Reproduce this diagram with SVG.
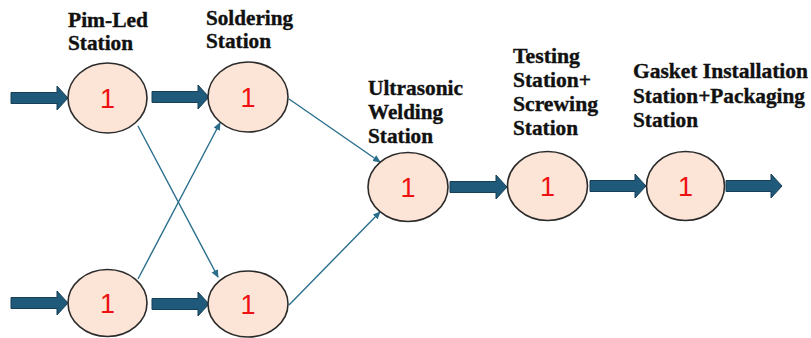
<svg xmlns="http://www.w3.org/2000/svg" width="811" height="338" viewBox="0 0 811 338">
<defs>
<style>
.node ellipse{fill:#FCE4D6;stroke:#2b2b2b;stroke-width:1.6}
.num{font-family:"Liberation Sans",Arial,sans-serif;font-size:27px;fill:#EE1111;text-anchor:middle}
.lbl{font-family:"Liberation Serif","DejaVu Serif","Times New Roman",serif;font-weight:700;font-size:20px;fill:#111;stroke:#111;stroke-width:0.35}
.blk{fill:#1F5A7A;stroke:#173F56;stroke-width:1}
.thin{stroke:#2A6E8C;stroke-width:1.4;fill:none;marker-end:url(#ah)}
</style>
<marker id="ah" markerWidth="8" markerHeight="8" refX="7" refY="4" orient="auto" markerUnits="userSpaceOnUse">
<path d="M0,0.5 L8,4 L0,7.5 Z" fill="#2A6E8C"/>
</marker>
</defs>
<rect width="811" height="338" fill="#fff"/>
<g id="labels">
<text class="lbl" x="68" y="27" textLength="80" lengthAdjust="spacingAndGlyphs">Pim-Led</text>
<text class="lbl" x="68" y="50" textLength="65" lengthAdjust="spacingAndGlyphs">Station</text>
<text class="lbl" x="206" y="25" textLength="87" lengthAdjust="spacingAndGlyphs">Soldering</text>
<text class="lbl" x="206" y="48" textLength="65" lengthAdjust="spacingAndGlyphs">Station</text>
<text class="lbl" x="368" y="95" textLength="95" lengthAdjust="spacingAndGlyphs">Ultrasonic</text>
<text class="lbl" x="368" y="119" textLength="75" lengthAdjust="spacingAndGlyphs">Welding</text>
<text class="lbl" x="368" y="143" textLength="65" lengthAdjust="spacingAndGlyphs">Station</text>
<text class="lbl" x="513" y="63" textLength="67" lengthAdjust="spacingAndGlyphs">Testing</text>
<text class="lbl" x="513" y="87" textLength="78" lengthAdjust="spacingAndGlyphs">Station+</text>
<text class="lbl" x="513" y="111" textLength="85" lengthAdjust="spacingAndGlyphs">Screwing</text>
<text class="lbl" x="513" y="135" textLength="65" lengthAdjust="spacingAndGlyphs">Station</text>
<text class="lbl" x="633" y="78" textLength="175" lengthAdjust="spacingAndGlyphs">Gasket Installation</text>
<text class="lbl" x="633" y="103" textLength="172" lengthAdjust="spacingAndGlyphs">Station+Packaging</text>
<text class="lbl" x="633" y="127" textLength="65" lengthAdjust="spacingAndGlyphs">Station</text>
</g>
<g id="connectors">
<path class="blk" d="M11,92.5 H57 V86 L68,98 L57,110 V103.5 H11 Z"/>
<path class="blk" d="M152,91.5 H198 V85 L209,97 L198,109 V102.5 H152 Z"/>
<path class="blk" d="M11,297.5 H57 V291 L68,303 L57,315 V308.5 H11 Z"/>
<path class="blk" d="M152,298.5 H198 V292 L209,304 L198,316 V309.5 H152 Z"/>
<path class="blk" d="M450,181.5 H496 V175 L507,187 L496,199 V192.5 H450 Z"/>
<path class="blk" d="M590,180.5 H635 V174 L646,186 L635,198 V191.5 H590 Z"/>
<path class="blk" d="M726,180.5 H771 V174 L782,186 L771,198 V191.5 H726 Z"/>
<line class="thin" x1="138" y1="126" x2="218" y2="277"/>
<line class="thin" x1="138" y1="279" x2="220" y2="123"/>
<line class="thin" x1="289" y1="99" x2="380" y2="162"/>
<line class="thin" x1="289" y1="305" x2="380" y2="212"/>
</g>
<g id="n-pimled-top" class="node"><ellipse cx="107.5" cy="98" rx="39.5" ry="35"/><text class="num" x="107.5" y="108">1</text></g>
<g id="n-soldering-top" class="node"><ellipse cx="248" cy="97" rx="40" ry="35"/><text class="num" x="248" y="107">1</text></g>
<g id="n-pimled-bottom" class="node"><ellipse cx="107.5" cy="303" rx="39.5" ry="33.5"/><text class="num" x="107.5" y="313">1</text></g>
<g id="n-soldering-bottom" class="node"><ellipse cx="248" cy="304" rx="40" ry="33"/><text class="num" x="248" y="314">1</text></g>
<g id="n-welding" class="node"><ellipse cx="408" cy="187" rx="40" ry="34.5"/><text class="num" x="408" y="197">1</text></g>
<g id="n-testing" class="node"><ellipse cx="547.5" cy="186" rx="40" ry="34.5"/><text class="num" x="547.5" y="196">1</text></g>
<g id="n-gasket" class="node"><ellipse cx="685.5" cy="186" rx="39" ry="34.5"/><text class="num" x="685.5" y="196">1</text></g>
</svg>
